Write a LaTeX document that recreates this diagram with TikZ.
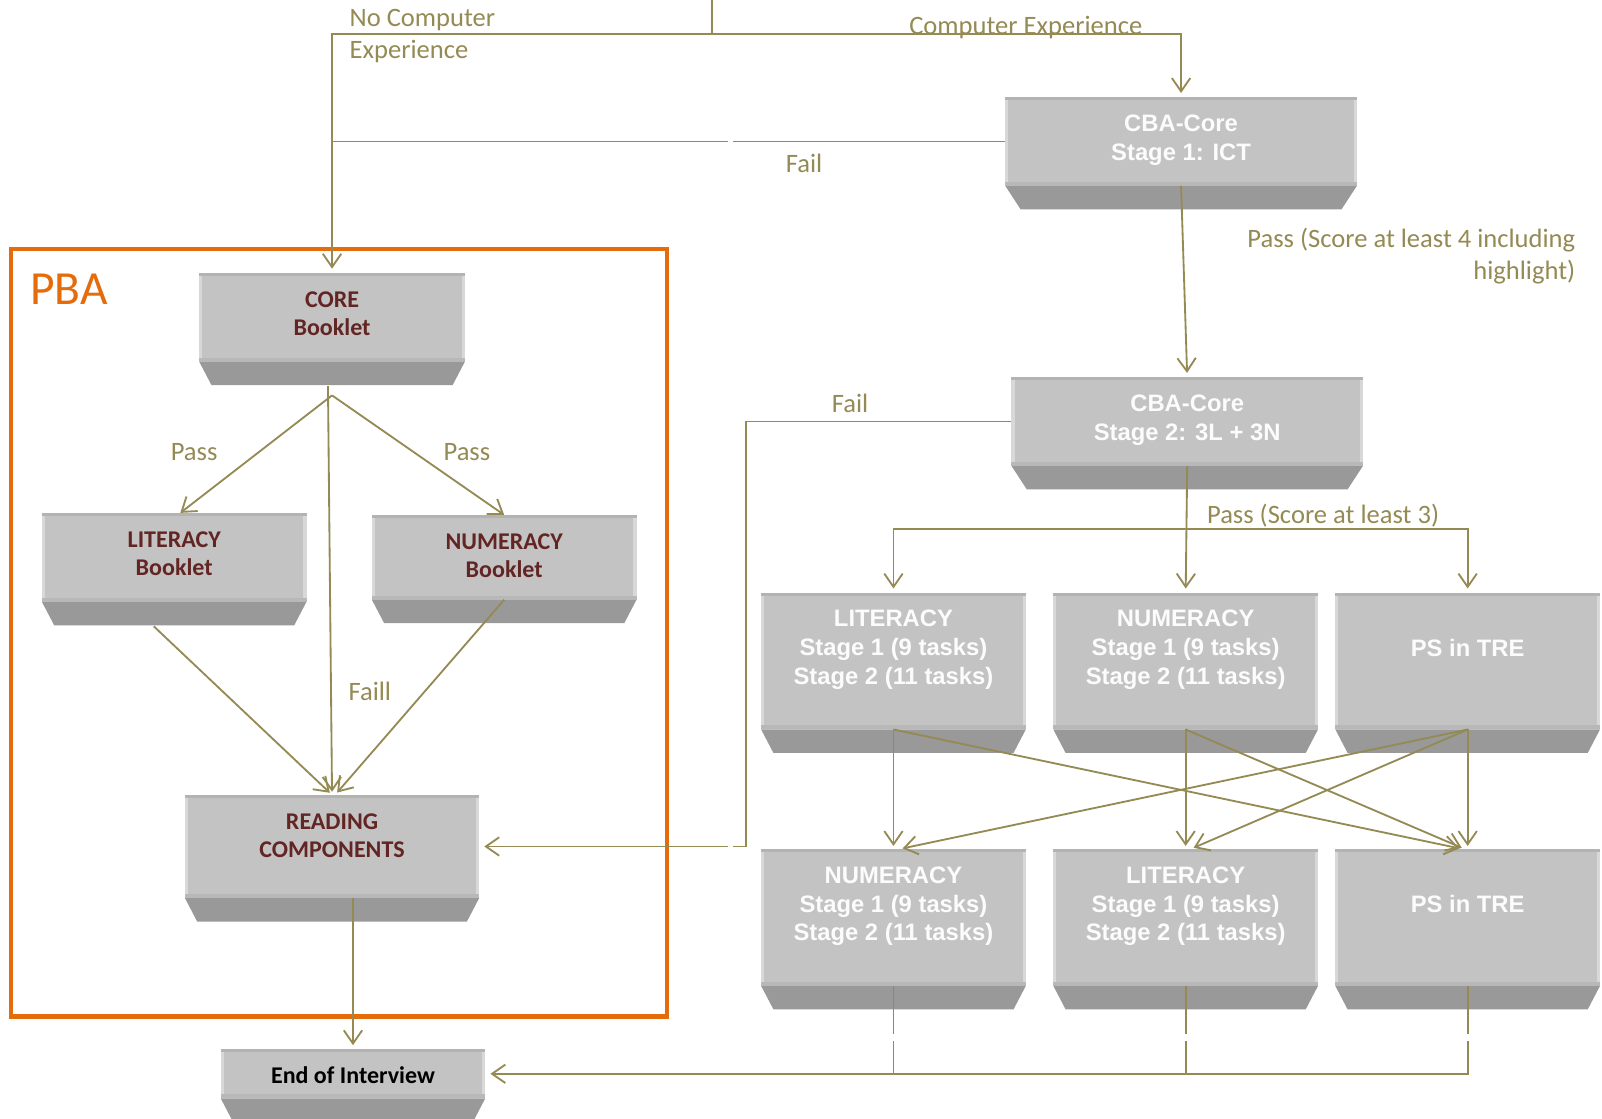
\documentclass[tikz,border=0pt]{standalone}
\usepackage{fontspec}
\setmainfont{Carlito}
\newfontfamily\arialf{Liberation Sans}
\usetikzlibrary{arrows.meta,calc}
\definecolor{linecol}{HTML}{948A54}
\definecolor{btop}{HTML}{C3C3C3}
\definecolor{bbot}{HTML}{999999}
\definecolor{bedge}{HTML}{B3B3B3}
\definecolor{bhl}{HTML}{D8D8D8}
\definecolor{bmid}{HTML}{B8B8B8}
\definecolor{cbawhite}{HTML}{FCFCFC}
\definecolor{pbared}{HTML}{632523}
\definecolor{pbaorange}{HTML}{E46C0A}
\newcommand\mkbox[6]{%
  \pgfmathsetmacro\bw{#4-#2}\pgfmathsetmacro\bh{#5-#3}%
  \pgfmathsetmacro\bx{(#2+#4)/2}\pgfmathsetmacro\by{(#3+#5)/2}%
  \node[boxtop, minimum width=\bw pt, minimum height=\bh pt] (#1) at (\bx,\by) {};
  \fill[bbot] (#1.south west) -- (#1.south east) -- ([xshift=-#6pt,yshift=-23pt]#1.south east) -- ([xshift=#6pt,yshift=-23pt]#1.south west) -- cycle;
  \fill[bedge] (#1.north west) rectangle ([yshift=-3pt]#1.north east);
  \fill[bhl] ([yshift=-3pt]#1.north west) rectangle ([xshift=3pt,yshift=4pt]#1.south west);
  \fill[bhl] ([yshift=-3pt]#1.north east) rectangle ([xshift=-3pt,yshift=4pt]#1.south east);
  \fill[bmid] ([yshift=4pt]#1.south west) rectangle (#1.south east);
}
\begin{document}
\begin{tikzpicture}[x=1pt,y=-1pt,
  boxtop/.style={rectangle, fill=btop, draw=none, inner sep=0pt, outer sep=0pt},
  conn/.style={draw=linecol, line width=1.8pt},
  arr/.style={conn, -{Straight Barb[length=13pt,width=18pt]}, shorten >=3pt},
  lbl/.style={text=linecol, font=\fontsize{26}{31.5}\selectfont, inner sep=0pt},
  cbatxt/.style={text=cbawhite, font=\arialf\bfseries\fontsize{23.3}{28}\selectfont, align=center, inner sep=0pt},
  pbatxt/.style={text=pbared, font=\bfseries\fontsize{23.5}{27}\selectfont, align=center, inner sep=0pt},
]
\useasboundingbox (0,0) rectangle (1568,1095);

% PBA frame
\draw[pbaorange, line width=4.2pt] (10.5,244) rectangle (653,995);
\node[text=pbaorange, font=\fontsize{46.5}{54}\selectfont, anchor=west, inner sep=0pt] (pba) at (29.5,283) {PBA};

% boxes
\mkbox{cba1}{984}{95}{1328}{182}{15}
\mkbox{cba2}{990}{369}{1334}{456}{15}
\mkbox{core}{195}{267}{455}{354}{12}
\mkbox{litb}{41}{502}{300}{589}{12}
\mkbox{numb}{364}{504}{623}{587}{12}
\mkbox{reading}{181}{778}{469}{879}{12}
\mkbox{endi}{216}{1027}{475}{1075}{12}
\mkbox{lit1}{745}{580}{1004}{714}{12}
\mkbox{num1}{1031}{580}{1290}{714}{12}
\mkbox{ps1}{1307}{580}{1566}{714}{12}
\mkbox{num2}{745}{831}{1004}{965}{12}
\mkbox{lit2}{1031}{831}{1290}{965}{12}
\mkbox{ps2}{1307}{831}{1566}{965}{12}

% box texts
\node[cbatxt] (cba1t) at (1156,137) {CBA-Core\\Stage 1: ICT};
\node[cbatxt] (cba2t) at (1162,411) {CBA-Core\\Stage 2: 3L + 3N};
\node[pbatxt] (coret) at (325,307) {CORE\\Booklet};
\node[pbatxt] (litbt) at (170.5,542) {LITERACY\\Booklet};
\node[pbatxt] (numbt) at (493.5,544) {NUMERACY\\Booklet};
\node[pbatxt] (readingt) at (325,818) {READING\\COMPONENTS};
\node[pbatxt, text=black] (endit) at (345.5,1052) {End of Interview};
\node[cbatxt] (lit1t) at (874.5,636) {LITERACY\\Stage 1 (9 tasks)\\Stage 2 (11 tasks)};
\node[cbatxt] (num1t) at (1160.5,636) {NUMERACY\\Stage 1 (9 tasks)\\Stage 2 (11 tasks)};
\node[cbatxt] (ps1t) at (1436.5,634) {PS in TRE};
\node[cbatxt] (num2t) at (874.5,887) {NUMERACY\\Stage 1 (9 tasks)\\Stage 2 (11 tasks)};
\node[cbatxt] (lit2t) at (1160.5,887) {LITERACY\\Stage 1 (9 tasks)\\Stage 2 (11 tasks)};
\node[cbatxt] (ps2t) at (1436.5,885) {PS in TRE};

% connectors: top
\coordinate (topin) at (697,0);
\coordinate (split) at (697,33);
\draw[conn] (topin) -- (split);
\draw[arr, shorten >=4pt] (split) -| (core.north);
\draw[arr, shorten >=4pt] (split) -| (cba1.north);
\coordinate (g1a) at (717,138.5);
\coordinate (g1b) at (713,138.5);
\draw[conn] (cba1.west) -- (g1a);
\draw[conn] (g1b) -- (cba1.west -| core.north);
\draw[arr, shorten >=4pt] (cba1.south) -- (cba2.north);
\coordinate (fk) at (730,412.5);
\coordinate (g2a) at (717,828.5);
\coordinate (g2b) at (713,828.5);
\draw[conn] (cba2.west) -- (fk) |- (g2a);
\draw[arr, shorten >=5pt] (g2b) -- (reading.east);
\coordinate (pbar) at (1161.3,518);
\draw[arr, shorten >=4pt] (cba2.south) -- (num1.north);
\draw[arr, shorten >=4pt] (pbar) -| (lit1.north);
\draw[arr, shorten >=4pt] (pbar) -| (ps1.north);

% PBA connectors
\coordinate (cj) at (325,387);
\draw[arr, shorten >=0pt] (cj) -- ([xshift=6pt]litb.north);
\draw[arr, shorten >=0pt] (cj) -- (numb.north);
\draw[arr] ([xshift=-4pt,yshift=-24pt]core.south) -- (reading.north);
\draw[arr] ([xshift=-20pt,yshift=-24pt]litb.south) -- (reading.north);
\draw[arr] (numb.south) -- ([xshift=3pt]reading.north);
\draw[arr, shorten >=4pt] (reading.south -| endi.north) -- (endi.north);

% CBA module crossings
\draw[arr] (lit1.south) -- (num2.north);
\draw[arr] (lit1.south) -- ([xshift=-5pt]ps2.north);
\draw[arr] (num1.south) -- (lit2.north);
\draw[arr] (num1.south) -- ([xshift=-3pt]ps2.north);
\draw[arr] (ps1.south) -- (ps2.north);
\draw[arr] (ps1.south) -- ([xshift=6pt]num2.north);
\draw[arr] (ps1.south) -- ([xshift=5pt]lit2.north);

% to end of interview
\draw[conn] (ps2.south) -- ([yshift=-47pt]ps2.south);
\draw[arr, shorten >=5pt] ([yshift=-54pt]ps2.south) |- (endi.east);
\draw[conn] (num2.south) -- ([yshift=-47pt]num2.south);
\draw[conn] ([yshift=-54pt]num2.south) -- (num2.south |- endi.east);
\draw[conn] (lit2.south) -- ([yshift=-47pt]lit2.south);
\draw[conn] ([yshift=-54pt]lit2.south) -- (lit2.south |- endi.east);

% labels
\node[lbl, anchor=west, align=left] (nocomp) at (342,35) {No Computer\\Experience};
\node[lbl] (compexp) at (1004,27) {Computer Experience};
\node[lbl] (fail1) at (787,160) {Fail};
\node[lbl, anchor=east, align=right] (pass1) at (1542,251) {Pass (Score at least 4 including\\highlight)};
\node[lbl] (fail2) at (832,395) {Fail};
\node[lbl] (pass2) at (1295,505) {Pass (Score at least 3)};
\node[lbl] (passl) at (190,442) {Pass};
\node[lbl] (passr) at (457,442) {Pass};
\node[lbl] (faill) at (362,677) {Faill};
\end{tikzpicture}
\end{document}
